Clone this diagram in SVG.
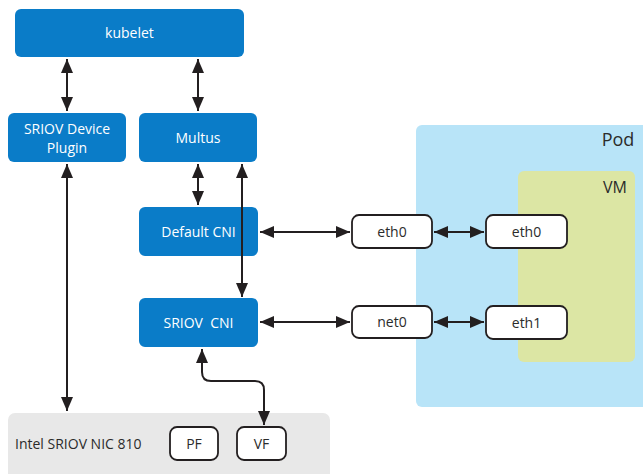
<svg xmlns="http://www.w3.org/2000/svg" width="643" height="474" viewBox="0 0 643 474">
  <defs>
    <marker id="ah" viewBox="0 0 14 12" refX="14" refY="6" markerWidth="14" markerHeight="12" markerUnits="userSpaceOnUse" orient="auto-start-reverse">
      <path d="M0,0 L14,6 L0,12 z" fill="#231f20"/>
    </marker>
    <style>
      .blue { fill: #0a7cc8; }
      .wtxt { font-family: "Open Sans", "Liberation Sans", sans-serif; font-size: 14px; fill: #ffffff; text-anchor: middle; }
      .dtxt { font-family: "Open Sans", "Liberation Sans", sans-serif; font-size: 14px; fill: #2b2b2b; text-anchor: middle; }
      .port { fill: #ffffff; stroke: #231f20; stroke-width: 1.8; }
      .conn { fill: none; stroke: #231f20; stroke-width: 2; marker-start: url(#ah); marker-end: url(#ah); }
    </style>
  </defs>

  <rect width="643" height="474" fill="#ffffff"/>

  <!-- containers -->
  <g id="pod">
    <rect x="416" y="125" width="232" height="282" rx="6" fill="#b8e4f8"/>
    <text x="618" y="146" class="dtxt" style="font-size:18px">Pod</text>
  </g>
  <g id="vm">
    <rect x="518" y="171" width="117" height="191" rx="6" fill="#dce6a4"/>
    <text x="615" y="193" class="dtxt" style="font-size:16px">VM</text>
  </g>
  <g id="nic">
    <rect x="8" y="413" width="322" height="70" rx="7" fill="#e8e8e8"/>
    <text x="15" y="449" class="dtxt" style="text-anchor:start">Intel SRIOV NIC 810</text>
  </g>

  <!-- blue components -->
  <g id="kubelet">
    <rect x="15" y="9" width="229" height="48" rx="6" class="blue"/>
    <text x="129.5" y="38" class="wtxt">kubelet</text>
  </g>
  <g id="device-plugin">
    <rect x="8" y="113" width="118" height="49" rx="6" class="blue"/>
    <text x="67" y="134" class="wtxt">SRIOV Device</text>
    <text x="67" y="153" class="wtxt">Plugin</text>
  </g>
  <g id="multus">
    <rect x="139" y="113" width="118" height="49" rx="6" class="blue"/>
    <text x="198" y="143" class="wtxt">Multus</text>
  </g>
  <g id="default-cni">
    <rect x="139" y="207" width="119" height="49" rx="6" class="blue"/>
    <text x="198.5" y="237" class="wtxt">Default CNI</text>
  </g>
  <g id="sriov-cni">
    <rect x="139" y="298" width="119" height="49" rx="6" class="blue"/>
    <text x="198.5" y="328" class="wtxt" xml:space="preserve">SRIOV  CNI</text>
  </g>

  <!-- interfaces -->
  <g id="pod-eth0">
    <rect x="352" y="215" width="80" height="33" rx="7" class="port"/>
    <text x="392" y="237" class="dtxt">eth0</text>
  </g>
  <g id="pod-net0">
    <rect x="352" y="306" width="80" height="32" rx="7" class="port"/>
    <text x="392" y="327" class="dtxt">net0</text>
  </g>
  <g id="vm-eth0">
    <rect x="486" y="215" width="81" height="33" rx="7" class="port"/>
    <text x="526.5" y="237" class="dtxt">eth0</text>
  </g>
  <g id="vm-eth1">
    <rect x="486" y="306" width="81" height="33" rx="7" class="port"/>
    <text x="526.5" y="328" class="dtxt">eth1</text>
  </g>
  <g id="pf">
    <rect x="170" y="427" width="48" height="33" rx="7" class="port"/>
    <text x="194" y="449" class="dtxt">PF</text>
  </g>
  <g id="vf">
    <rect x="237" y="427" width="49" height="33" rx="7" class="port"/>
    <text x="261.5" y="449" class="dtxt">VF</text>
  </g>

  <!-- connectors -->
  <g id="connectors">
    <line x1="67" y1="59" x2="67" y2="111" class="conn"/>
    <line x1="198" y1="59" x2="198" y2="111" class="conn"/>
    <line x1="198" y1="164" x2="198" y2="205" class="conn"/>
    <line x1="242" y1="164" x2="242" y2="297" class="conn"/>
    <line x1="67" y1="164" x2="67" y2="411" class="conn"/>
    <line x1="260" y1="232" x2="350" y2="232" class="conn"/>
    <line x1="260" y1="322" x2="350" y2="322" class="conn"/>
    <line x1="434" y1="232" x2="484" y2="232" class="conn"/>
    <line x1="434" y1="322" x2="484" y2="322" class="conn"/>
    <path d="M202,349 L202,372 Q202,381 211,381 L255,381 Q264,381 264,390 L264,425" class="conn"/>
  </g>
</svg>
